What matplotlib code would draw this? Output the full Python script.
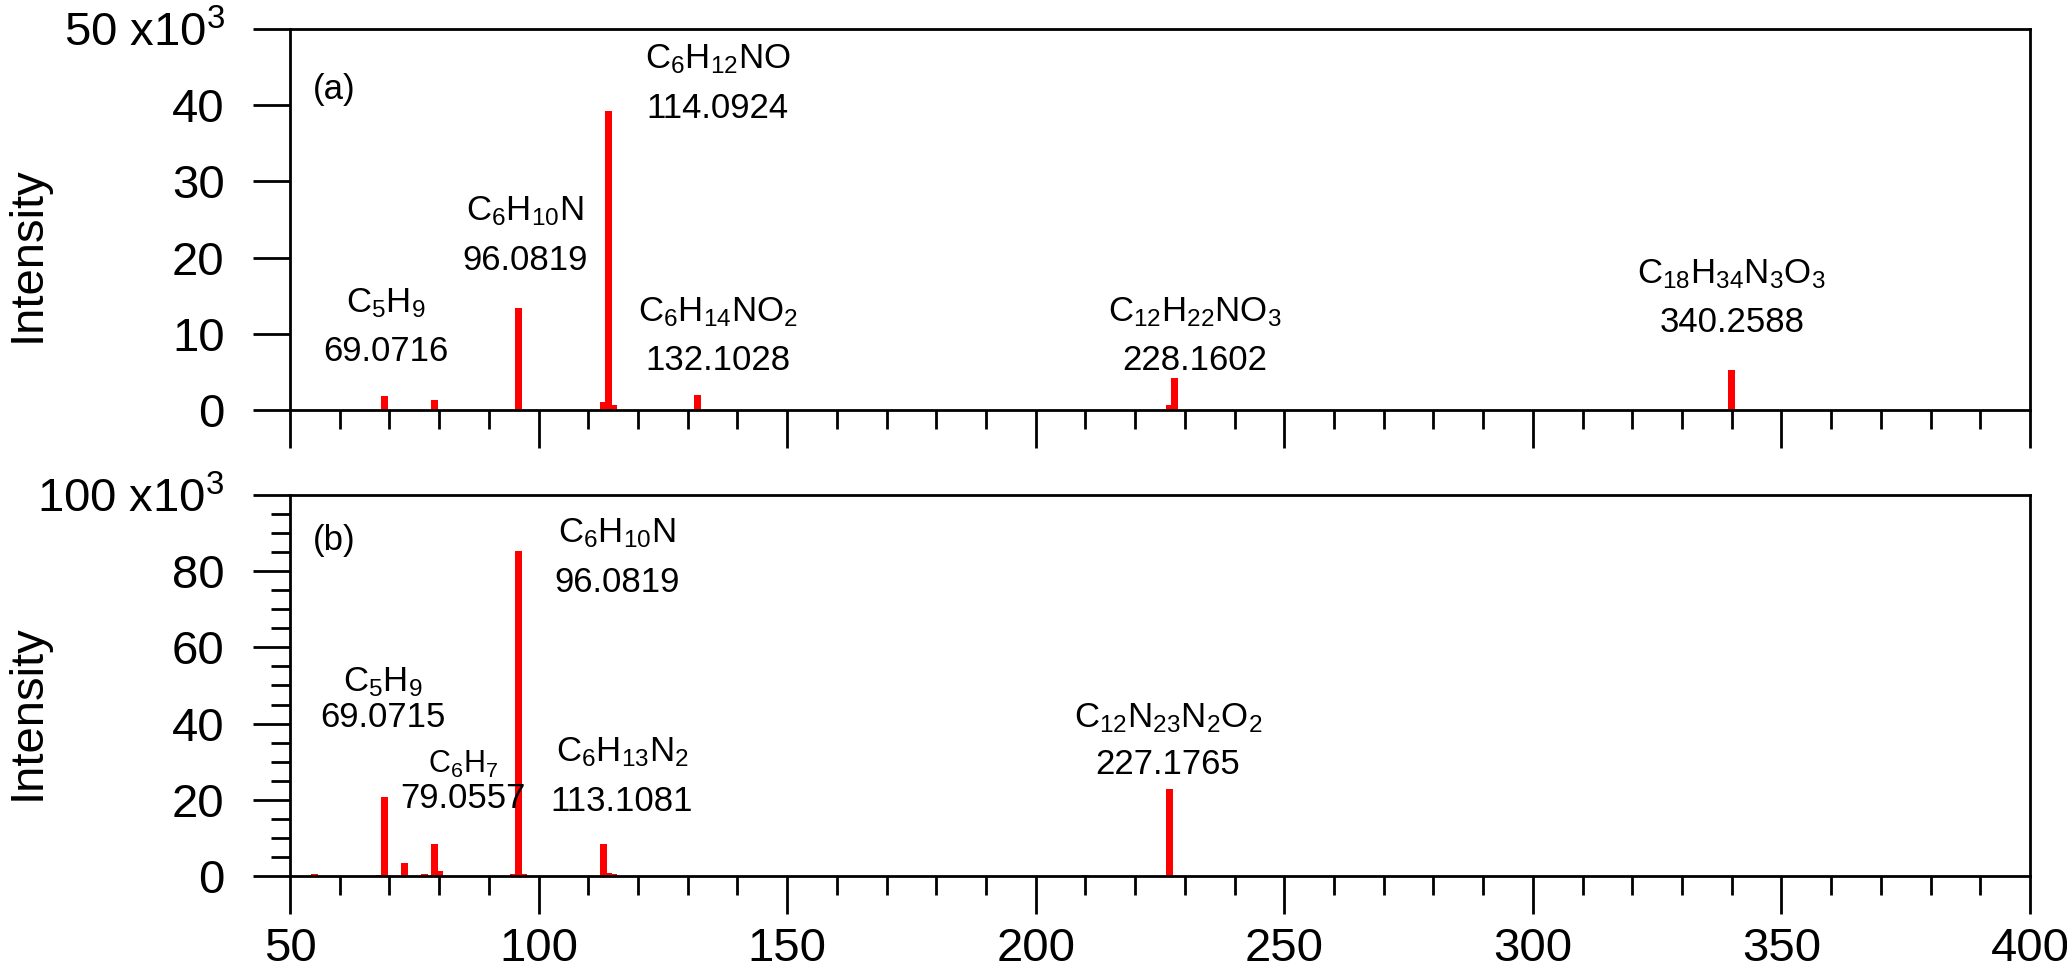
import matplotlib
matplotlib.use("Agg")
import matplotlib.pyplot as plt
from matplotlib.ticker import MultipleLocator, FixedLocator

FONT = 'Liberation Sans'
plt.rcParams['font.family'] = [FONT, 'DejaVu Sans']
plt.rcParams['mathtext.fontset'] = 'custom'
plt.rcParams['mathtext.rm'] = FONT
plt.rcParams['mathtext.it'] = FONT

# ---- data (intensity in thousands) ----
mz_a = [69, 79, 96, 113, 114, 115, 132, 227, 228, 340]
int_a = [1.9, 1.3, 13.4, 1.1, 39.2, 0.6, 2.0, 0.6, 4.2, 5.3]

mz_b = [55, 68, 69, 73, 77, 79, 80, 95, 96, 97, 113, 114, 115, 210, 227]
int_b = [0.6, 0.3, 20.7, 3.3, 0.4, 8.3, 1.3, 0.6, 85.2, 0.6, 8.4, 0.8, 0.4, 0.3, 22.8]

formula_a = [r"$\mathregular{C_5H_9}$", r"$\mathregular{C_6H_{10}N}$",
             r"$\mathregular{C_6H_{12}NO}$", r"$\mathregular{C_6H_{14}NO_2}$",
             r"$\mathregular{C_{12}H_{22}NO_3}$", r"$\mathregular{C_{18}H_{34}N_3O_3}$"]
mass_a = ["69.0716", "96.0819", "114.0924", "132.1028", "228.1602", "340.2588"]
lab_a_xy = [(69.2, 5.5), (97.3, 17.5), (136, 37.4), (136, 4.3), (232, 4.3), (340, 9.3)]
gap_a = [35, 35, 35, 35, 35, 35]
fsize_a = [25, 25, 25, 25, 25, 25]

formula_b = [r"$\mathregular{C_5H_9}$", r"$\mathregular{C_6H_7}$",
             r"$\mathregular{C_6H_{10}N}$", r"$\mathregular{C_6H_{13}N_2}$",
             r"$\mathregular{C_{12}N_{23}N_2O_2}$"]
mass_b = ["69.0715", "79.0557", "96.0819", "113.1081", "227.1765"]
lab_b_xy = [(68.6, 37.3), (84.8, 16.0), (115.7, 72.8), (116.8, 15.2), (226.6, 25.0)]
gap_b = [25, 25, 35, 35, 33]
fsize_b = [25, 22, 25, 25, 25]

xlim = (50, 400)

fig = plt.figure(figsize=(20.67, 9.77), dpi=100)
ax1 = fig.add_axes([0.1403, 0.5803, 0.8418, 0.39])
ax2 = fig.add_axes([0.1403, 0.1034, 0.8418, 0.39])

RED = '#ff0000'
LW = 2.0
TICK_FS = 34
ANN_FS = 25

for ax, mz, it, ymax, ystep, forms, masses, xy, fsz, gaps, plabel, py, ly in [
        (ax1, mz_a, int_a, 50, 10, formula_a, mass_a, lab_a_xy, fsize_a, gap_a, '(a)', 0.84, 0.41),
        (ax2, mz_b, int_b, 100, 20, formula_b, mass_b, lab_b_xy, fsize_b, gap_b, '(b)', 0.88, 0.43)]:
    ax.bar(mz, it, width=1.4, color=RED, linewidth=0, zorder=2)
    ax.set_xlim(*xlim)
    ax.set_ylim(0, ymax)
    for s in ax.spines.values():
        s.set_linewidth(LW)
        s.set_zorder(3)
    ax.xaxis.set_major_locator(MultipleLocator(50))
    ax.xaxis.set_minor_locator(MultipleLocator(10))
    yt = list(range(0, ymax + 1, ystep))
    ax.yaxis.set_major_locator(FixedLocator(yt))
    ylabs = [str(v) for v in yt]
    ylabs[-1] = str(ymax) + r" x10$^{\mathregular{3}}$"
    ax.set_yticklabels(ylabs)
    ax.tick_params(axis='both', which='major', direction='out', length=27, width=LW,
                   labelsize=TICK_FS)
    ax.tick_params(axis='both', which='minor', direction='out', length=14, width=LW)
    ax.tick_params(axis='y', which='major', pad=20)
    ax.tick_params(axis='x', which='major', pad=10)
    ax.set_ylabel('Intensity', fontsize=34)
    ax.yaxis.set_label_coords(-0.138, ly)
    ax.text(0.013, py, plabel, transform=ax.transAxes, fontsize=25,
            ha='left', va='center')
    for f, m, (x, y), fs, g in zip(forms, masses, xy, fsz, gaps):
        ax.text(x, y, m, fontsize=ANN_FS, ha='center', va='bottom', zorder=4)
        ax.annotate(f, xy=(x, y), xytext=(0, g), textcoords='offset points',
                    fontsize=fs, ha='center', va='bottom', zorder=4)

ax1.tick_params(axis='x', which='both', labelbottom=False)
ax2.yaxis.set_minor_locator(MultipleLocator(5))

fig.savefig('out.png', dpi=100, facecolor='white')
